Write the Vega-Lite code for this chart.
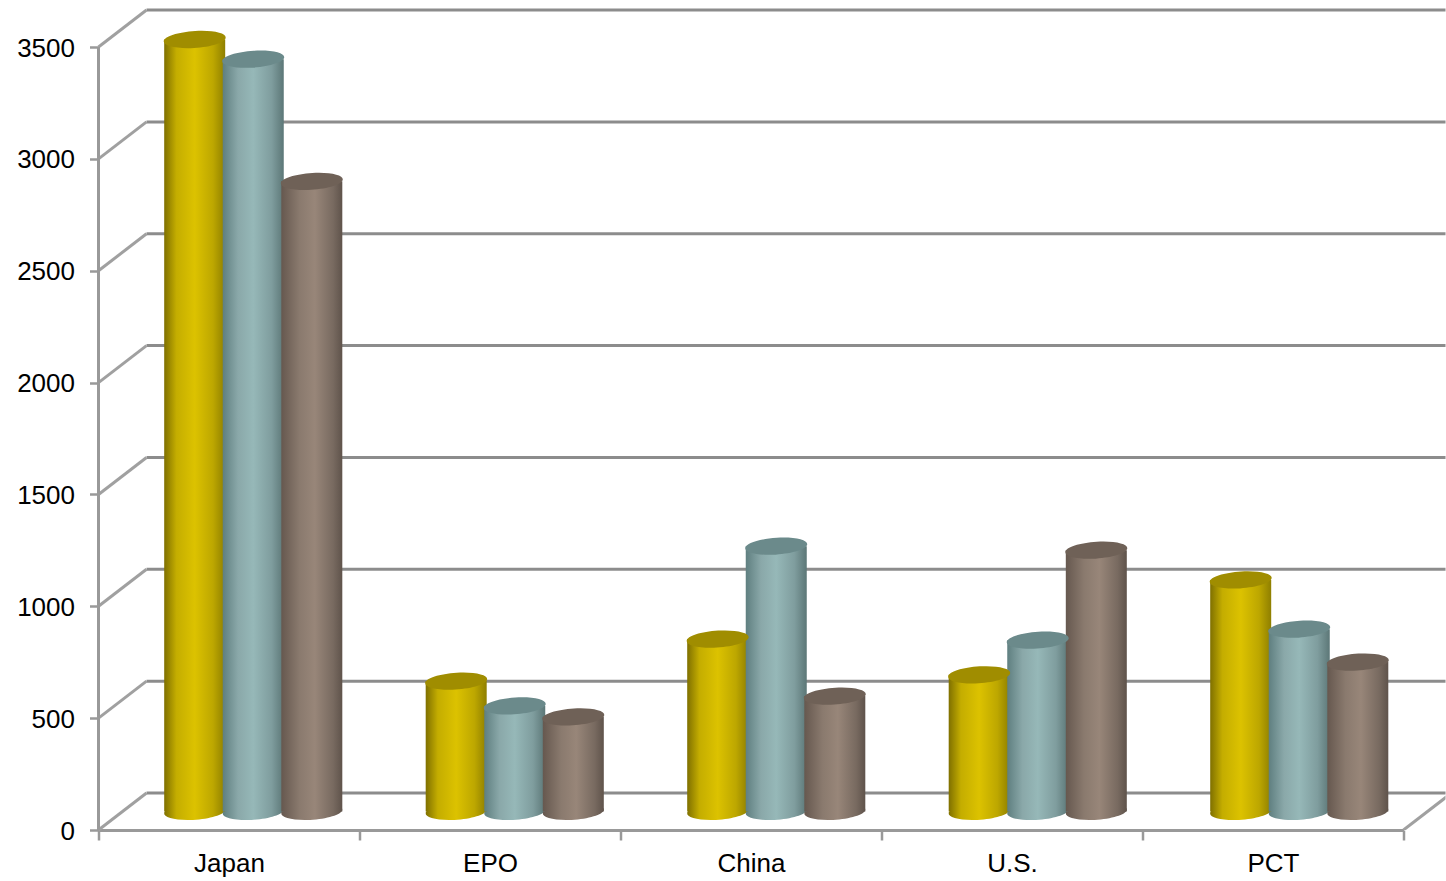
{
  "$schema": "https://vega.github.io/schema/vega-lite/v6.json",
  "width": 1347,
  "height": 820,
  "autosize": "none",
  "padding": {"left": 98.5, "top": 10, "right": 0, "bottom": 51},
  "background": "#ffffff",
  "config": {"view": {"stroke": null}},
  "datasets": {
    "offices": [
      {"office": "Japan", "series": "A", "value": 3451},
      {"office": "Japan", "series": "B", "value": 3363},
      {"office": "Japan", "series": "C", "value": 2817},
      {"office": "EPO", "series": "A", "value": 583},
      {"office": "EPO", "series": "B", "value": 472},
      {"office": "EPO", "series": "C", "value": 423},
      {"office": "China", "series": "A", "value": 771},
      {"office": "China", "series": "B", "value": 1186},
      {"office": "China", "series": "C", "value": 516},
      {"office": "U.S.", "series": "A", "value": 611},
      {"office": "U.S.", "series": "B", "value": 766},
      {"office": "U.S.", "series": "C", "value": 1168},
      {"office": "PCT", "series": "A", "value": 1035},
      {"office": "PCT", "series": "B", "value": 815},
      {"office": "PCT", "series": "C", "value": 668}
    ],
    "grid": [
      {"value": 0, "back": 165.4},
      {"value": 500, "back": 665.4},
      {"value": 1000, "back": 1165.4},
      {"value": 1500, "back": 1665.4},
      {"value": 2000, "back": 2165.4},
      {"value": 2500, "back": 2665.4},
      {"value": 3000, "back": 3165.4},
      {"value": 3500, "back": 3665.4}
    ]
  },
  "layer": [
    {
      "data": {"name": "grid"},
      "mark": {"type": "rule", "color": "#8c8c8c", "strokeWidth": 3},
      "encoding": {
        "x": {"datum": 0.184, "type": "quantitative", "scale": {"domain": [0, 5.161], "range": [0, 1347]}, "axis": null},
        "x2": {"datum": 5.161},
        "y": {"field": "back", "type": "quantitative", "scale": {"domain": [0, 3665.6], "nice": false},
          "axis": {"values": [0, 500, 1000, 1500, 2000, 2500, 3000, 3500], "title": null, "grid": false, "format": "d", "domain": false,
            "tickColor": "#999999", "tickWidth": 2.5, "tickSize": 9,
            "labelFont": "Liberation Sans", "labelFontSize": 26, "labelColor": "#000000", "labelPadding": 15, "labelOffset": 1, "labelBound": false, "labelFlush": false, "labelOverlap": false}}
      }
    },
    {
      "data": {"name": "grid"},
      "mark": {"type": "rule", "color": "#a0a0a0", "strokeWidth": 3},
      "encoding": {
        "x": {"datum": 0, "type": "quantitative", "scale": {"domain": [0, 5.161], "range": [0, 1347]}, "axis": null},
        "x2": {"datum": 0.184},
        "y": {"field": "value", "type": "quantitative"},
        "y2": {"field": "back"}
      }
    },
    {
      "data": {"name": "grid"},
      "transform": [{"filter": "datum.value === 0"}],
      "mark": {"type": "rule", "color": "#999999", "strokeWidth": 3},
      "encoding": {
        "x": {"datum": 0, "type": "quantitative", "scale": {"domain": [0, 5.161], "range": [0, 1347]}, "axis": null},
        "y": {"field": "value", "type": "quantitative"},
        "y2": {"datum": 3500}
      }
    },
    {
      "data": {"name": "grid"},
      "transform": [{"filter": "datum.value === 0"}],
      "mark": {"type": "rule", "color": "#a0a0a0", "strokeWidth": 3, "clip": true},
      "encoding": {
        "x": {"datum": 5, "type": "quantitative", "scale": {"domain": [0, 5.161], "range": [0, 1347]}, "axis": null},
        "x2": {"datum": 5.184},
        "y": {"field": "value", "type": "quantitative"},
        "y2": {"field": "back"}
      }
    },
    {
      "data": {"name": "offices"},
      "mark": {"type": "tick", "opacity": 0},
      "encoding": {
        "x": {"field": "office", "type": "nominal", "sort": ["Japan", "EPO", "China", "U.S.", "PCT"],
          "scale": {"range": [0, 1305], "paddingInner": 0, "paddingOuter": 0},
          "axis": {"title": null, "labelAngle": 0, "tickBand": "extent", "domainColor": "#999999", "domainWidth": 3, "tickColor": "#999999", "tickWidth": 2.5, "tickSize": 10,
            "labelFont": "Liberation Sans", "labelFontSize": 26, "labelColor": "#000000", "labelPadding": 10}}
      }
    },
    {
      "data": {"name": "offices"},
      "encoding": {
        "x": {"field": "office", "type": "nominal", "sort": ["Japan", "EPO", "China", "U.S.", "PCT"],
          "scale": {"range": [24, 1331.5], "paddingInner": 0, "paddingOuter": 0},
          "axis": null},
        "xOffset": {"field": "series", "type": "nominal", "scale": {"paddingInner": 0, "paddingOuter": 0.733}},
        "fill": {
          "condition": [
            {"test": "datum.series === 'A'", "value": {"x1": 0, "y1": 0, "x2": 1, "y2": 0, "gradient": "linear", "stops": [
              {"offset": 0, "color": "#7f7000"}, {"offset": 0.2, "color": "#c4ad00"}, {"offset": 0.5, "color": "#dcc200"}, {"offset": 0.8, "color": "#bda700"}, {"offset": 1, "color": "#8f7f00"}]}},
            {"test": "datum.series === 'B'", "value": {"x1": 0, "y1": 0, "x2": 1, "y2": 0, "gradient": "linear", "stops": [
              {"offset": 0, "color": "#5f7f80"}, {"offset": 0.25, "color": "#8aa8a9"}, {"offset": 0.5, "color": "#96b8b8"}, {"offset": 0.8, "color": "#7f9d9e"}, {"offset": 1, "color": "#5c7777"}]}}
          ],
          "value": {"x1": 0, "y1": 0, "x2": 1, "y2": 0, "gradient": "linear", "stops": [
            {"offset": 0, "color": "#66584f"}, {"offset": 0.3, "color": "#8a7a6e"}, {"offset": 0.55, "color": "#988679"}, {"offset": 0.85, "color": "#786a60"}, {"offset": 1, "color": "#5f534b"}]}
        }
      },
      "layer": [
        {
          "mark": {"type": "point", "filled": true, "opacity": 1, "size": 3721, "shape": "M -1 0.05 A 1 0.27 -4 1 0 1 -0.05 A 1 0.27 -4 1 0 -1 0.05 Z", "yOffset": -18.5},
          "encoding": {"y": {"datum": 0, "type": "quantitative"}}
        },
        {
          "mark": {"type": "bar", "width": 61, "yOffset": -18.5},
          "encoding": {"y": {"field": "value", "type": "quantitative", "stack": null}, "y2": {"datum": 82.7}}
        },
        {
          "mark": {"type": "point", "filled": true, "opacity": 1, "size": 3844, "shape": "M -1 0.06 A 1 0.27 -4 1 1 1 -0.06 A 1 0.27 -4 1 1 -1 0.06 Z", "yOffset": -18.5},
          "encoding": {
            "y": {"field": "value", "type": "quantitative"},
            "fill": {
              "condition": [
                {"test": "datum.series === 'A'", "value": "#a08d00"},
                {"test": "datum.series === 'B'", "value": "#6b8a8b"}
              ],
              "value": "#6f6157"
            }
          }
        }
      ]
    }
  ],
  "resolve": {"scale": {"x": "independent", "y": "shared"}, "axis": {"x": "independent"}}
}
